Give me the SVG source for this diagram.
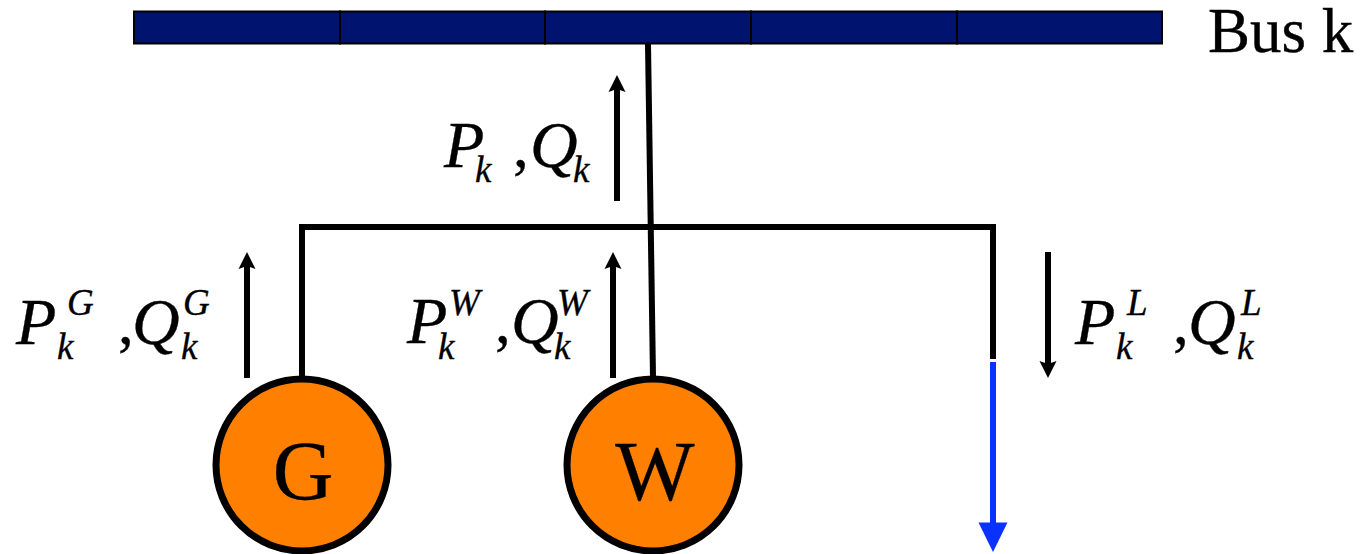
<svg xmlns="http://www.w3.org/2000/svg" width="1361" height="554" viewBox="0 0 1361 554">
<style>
text{font-family:"Liberation Serif","Times New Roman",serif;fill:#000;stroke:#000;stroke-width:.35}
.m{font-size:66px;font-style:italic}
.s{font-size:37px;font-style:italic}
.t{font-size:63px}
.n{font-size:84px;text-anchor:middle}
.w{fill:none;stroke:#000;stroke-width:6}
.a{fill:none;stroke:#000;stroke-width:6}
.c{fill:#ff7f00;stroke:#000;stroke-width:7}
.b{fill:#00146f;stroke:#000;stroke-width:2}
</style>
<defs>
<marker id="ah" markerUnits="userSpaceOnUse" markerWidth="18" markerHeight="18" refX="5" refY="9" orient="auto"><path d="M0 0.5L17 9L0 17.500L3 9Z" fill="#000"/></marker>
</defs>
<rect width="1361" height="554" fill="#fff"/>
<g id="bus">
<rect class="b" x="134" y="11.500" width="206" height="32"/>
<rect class="b" x="340" y="11.500" width="205" height="32"/>
<rect class="b" x="545" y="11.500" width="206" height="32"/>
<rect class="b" x="751" y="11.500" width="206" height="32"/>
<rect class="b" x="957" y="11.500" width="205" height="32"/>
</g>
<g id="connectors">
<path class="w" d="M648 44L653 377"/>
<path class="w" d="M302 377V227H993V359"/>
<path d="M993 362V525" fill="none" stroke="#0a32ff" stroke-width="6"/>
<path d="M978.500 522.500H1007.500L993 552Z" fill="#0a32ff"/>
<path class="a" marker-end="url(#ah)" d="M617 201V87"/>
<path class="a" marker-end="url(#ah)" d="M613 378V264"/>
<path class="a" marker-end="url(#ah)" d="M247 378V264"/>
<path class="a" marker-end="url(#ah)" d="M1048 252V366"/>
</g>
<g id="node-g"><circle class="c" cx="302" cy="465" r="86"/><text class="n" x="303" y="500">G</text></g>
<g id="node-w"><circle class="c" cx="653" cy="465" r="86"/><text class="n" x="655" y="500">W</text></g>
<g id="label-bus"><text class="t" x="1208" y="52">Bus k</text></g>
<g id="label-k">
<text class="m" x="444" y="167">P</text><text class="s" x="475" y="182">k</text>
<text class="t" x="513" y="167">,</text><text class="m" x="530" y="167">Q</text><text class="s" x="573" y="182">k</text>
</g>
<g id="label-w">
<text class="m" x="407" y="343">P</text><text class="s" x="449" y="315">W</text><text class="s" x="438" y="359">k</text>
<text class="t" x="495" y="343">,</text><text class="m" x="511" y="343">Q</text><text class="s" x="557" y="315">W</text><text class="s" x="554" y="359">k</text>
</g>
<g id="label-g">
<text class="m" x="16" y="344">P</text><text class="s" x="67" y="315">G</text><text class="s" x="57" y="359">k</text>
<text class="t" x="118" y="344">,</text><text class="m" x="132" y="344">Q</text><text class="s" x="183" y="315">G</text><text class="s" x="181" y="359">k</text>
</g>
<g id="label-l">
<text class="m" x="1075" y="344">P</text><text class="s" x="1127" y="315">L</text><text class="s" x="1116" y="359">k</text>
<text class="t" x="1173" y="344">,</text><text class="m" x="1188" y="344">Q</text><text class="s" x="1241" y="315">L</text><text class="s" x="1237" y="359">k</text>
</g>
</svg>
